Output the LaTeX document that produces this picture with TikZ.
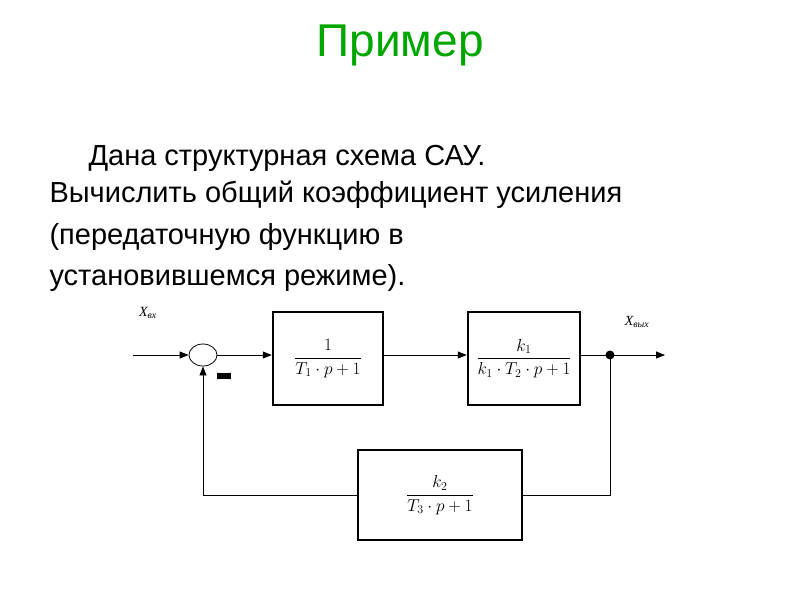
\documentclass[tikz,border=0pt]{standalone}
\usepackage{amsmath}
\usepackage{fontspec}
\setmainfont{Liberation Sans}
\newfontfamily\serifx{Liberation Serif}
\usetikzlibrary{arrows.meta,shapes.geometric}
\begin{document}
\begin{tikzpicture}[x=1pt,y=-1pt,
  blk/.style={draw,line width=2.5pt,inner sep=0},
  ln/.style={line width=0.8pt},
  arr/.style={ln,-{Triangle[length=9pt,width=7pt]}},
  frac/.style={font=\serifx\fontsize{17}{20}\selectfont}]
\useasboundingbox (0,0) rectangle (800,600);
\node[text=green!65!black,font=\fontsize{46}{50}\selectfont] (title) at (400,45) {Пример};
\node[anchor=west,font=\fontsize{29}{34}\selectfont] (l1) at (85,158) {Дана структурная схема САУ.};
\node[anchor=west,font=\fontsize{29}{34}\selectfont] (l2) at (46,195) {Вычислить общий коэффициент усиления};
\node[anchor=west,font=\fontsize{29}{34}\selectfont] (l3) at (46,237) {(передаточную функцию в};
\node[anchor=west,font=\fontsize{29}{34}\selectfont] (l4) at (46,278) {установившемся режиме).};
% diagram
\coordinate (in) at (133,355);
\node[draw,ln,ellipse,minimum width=28pt,minimum height=22pt,inner sep=0] (sum) at (203,355) {};
\node[blk,minimum width=110pt,minimum height=93pt] (b1) at (328,358.5) {};
\node[blk,minimum width=112pt,minimum height=93pt] (b2) at (524,358.5) {};
\node[blk,minimum width=164pt,minimum height=90pt] (b3) at (440,495) {};
\node[frac] at (b1) {$\dfrac{1}{T_1\cdot p+1}$};
\node[frac] at (b2) {$\dfrac{k_1}{k_1\cdot T_2\cdot p+1}$};
\node[frac] at (b3) {$\dfrac{k_2}{T_3\cdot p+1}$};
\fill (610,355) circle (4.5pt) coordinate (dot);
\coordinate (out) at (665,355);
\draw[arr] (in) -- (sum.west);
\draw[arr] (sum.east) -- (b1.west |- sum.east);
\draw[arr] (b1.east |- sum) -- (b2.west |- sum);
\draw[ln] (b2.east |- sum) -- (dot);
\draw[arr] (dot) -- (out);
\draw[ln] (dot) |- (b3.east);
\draw[arr] (b3.west) -| (sum.south);
\fill (217,373) rectangle (231,379);
\node[font=\serifx\itshape\fontsize{14}{16}\selectfont] (xin) at (148,313) {X\textsubscript{вх}};
\node[font=\serifx\itshape\fontsize{14}{16}\selectfont] (xout) at (637,322) {X\textsubscript{вых}};
\end{tikzpicture}
\end{document}
